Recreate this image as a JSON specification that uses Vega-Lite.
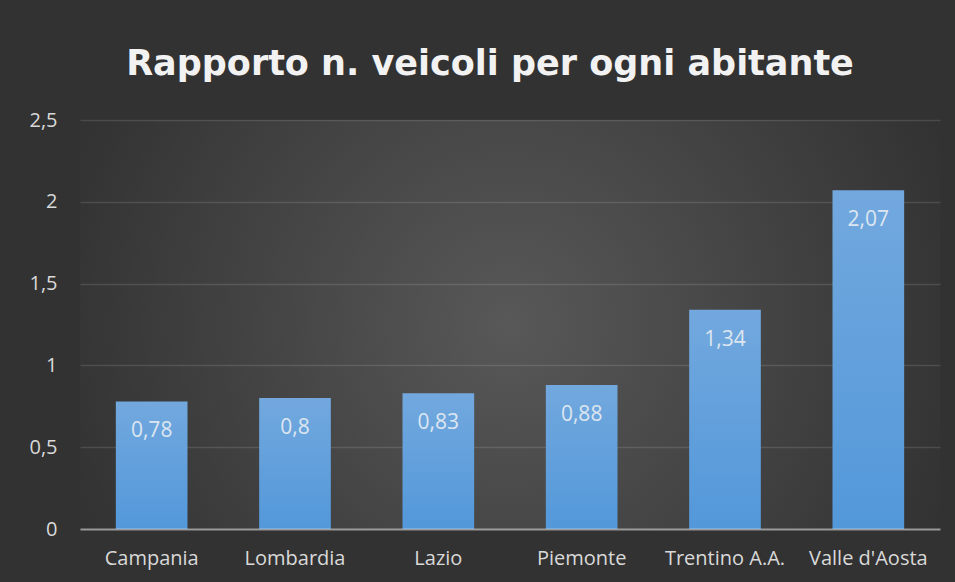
{
  "$schema": "https://vega.github.io/schema/vega-lite/v6.json",
  "width": 860,
  "height": 409,
  "autosize": {"type": "none"},
  "padding": {"left": 80, "top": 120, "right": 15, "bottom": 53},
  "background": "#323232",
  "config": {
    "locale": {"number": {"decimal": ",", "thousands": ".", "grouping": [3], "currency": ["", " €"]}},
    "view": {"stroke": null, "fill": {"gradient": "radial", "x1": 0.5, "y1": 0.5, "r1": 0, "x2": 0.5, "y2": 0.5, "r2": 0.55, "stops": [{"offset": 0, "color": "#585858"}, {"offset": 1, "color": "#323232"}]}},
    "font": "Open Sans"
  },
  "title": {
    "text": "Rapporto n. veicoli per ogni abitante",
    "font": "DejaVu Sans",
    "fontSize": 35,
    "fontWeight": "bold",
    "color": "#f2f2f2",
    "anchor": "middle",
    "frame": "group",
    "dx": -20,
    "offset": 28
  },
  "data": {
    "values": [
      {"regione": "Campania", "rapporto": 0.78},
      {"regione": "Lombardia", "rapporto": 0.8},
      {"regione": "Lazio", "rapporto": 0.83},
      {"regione": "Piemonte", "rapporto": 0.88},
      {"regione": "Trentino A.A.", "rapporto": 1.34},
      {"regione": "Valle d'Aosta", "rapporto": 2.07}
    ]
  },
  "encoding": {
    "x": {
      "field": "regione",
      "type": "nominal",
      "sort": null,
      "scale": {"paddingInner": 0.5, "paddingOuter": 0.25},
      "axis": {
        "title": null,
        "labelAngle": 0,
        "labelFontSize": 20,
        "labelColor": "#d9d9d9",
        "labelPadding": 19,
        "ticks": false,
        "domainColor": "#ffffff",
        "domainOpacity": 0.45,
        "domainWidth": 2,
        "zindex": 1
      }
    },
    "y": {
      "field": "rapporto",
      "type": "quantitative",
      "scale": {"domain": [0, 2.5]},
      "axis": {
        "title": null,
        "values": [0, 0.5, 1, 1.5, 2, 2.5],
        "format": "~r",
        "labelFontSize": 20,
        "labelColor": "#d9d9d9",
        "labelPadding": 23,
        "ticks": false,
        "domain": false,
        "gridColor": "#ffffff",
        "gridOpacity": 0.12,
        "gridWidth": 1.5
      }
    }
  },
  "layer": [
    {
      "mark": {
        "type": "bar",
        "fill": {"gradient": "linear", "x1": 0, "y1": 0, "x2": 0, "y2": 1, "stops": [{"offset": 0, "color": "#72a8de"}, {"offset": 1, "color": "#5398da"}]}
      }
    },
    {
      "mark": {"type": "text", "baseline": "middle", "dy": 30, "fontSize": 21, "color": "#dde6f0"},
      "encoding": {
        "text": {"field": "rapporto", "type": "quantitative", "format": "~r"}
      }
    }
  ]
}
